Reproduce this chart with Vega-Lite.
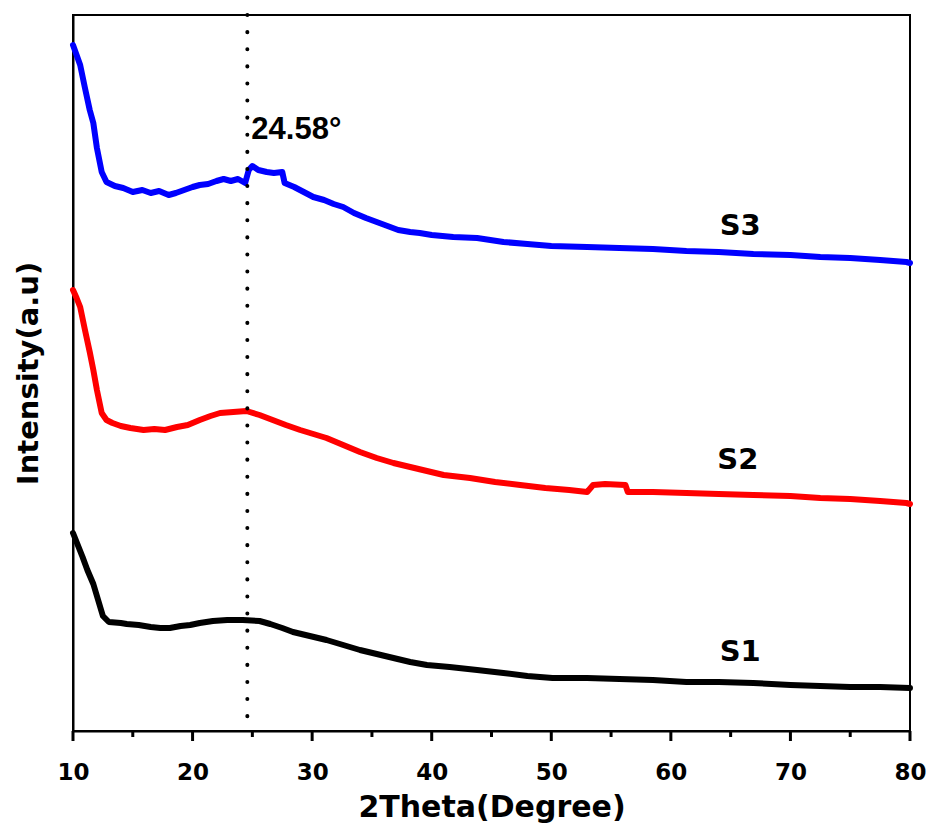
{
  "$schema": "https://vega.github.io/schema/vega-lite/v6.json",
  "width": 837,
  "height": 716,
  "autosize": {"type": "none"},
  "padding": {"left": 73, "top": 15, "right": 17, "bottom": 92},
  "background": "white",
  "config": {
    "view": {"stroke": "black", "strokeWidth": 2},
    "font": "DejaVu Sans"
  },
  "datasets": {
    "xrd": [
      {"theta": 10.0, "intensity": 686, "sample": "S3"},
      {"theta": 10.3, "intensity": 676, "sample": "S3"},
      {"theta": 10.6, "intensity": 666, "sample": "S3"},
      {"theta": 11.0, "intensity": 643, "sample": "S3"},
      {"theta": 11.4, "intensity": 621, "sample": "S3"},
      {"theta": 11.7, "intensity": 608, "sample": "S3"},
      {"theta": 12.0, "intensity": 583, "sample": "S3"},
      {"theta": 12.4, "intensity": 559, "sample": "S3"},
      {"theta": 12.8, "intensity": 549, "sample": "S3"},
      {"theta": 13.5, "intensity": 545, "sample": "S3"},
      {"theta": 14.2, "intensity": 543, "sample": "S3"},
      {"theta": 15.0, "intensity": 539, "sample": "S3"},
      {"theta": 15.8, "intensity": 541, "sample": "S3"},
      {"theta": 16.5, "intensity": 538, "sample": "S3"},
      {"theta": 17.2, "intensity": 540, "sample": "S3"},
      {"theta": 18.0, "intensity": 536, "sample": "S3"},
      {"theta": 18.6, "intensity": 538, "sample": "S3"},
      {"theta": 19.3, "intensity": 541, "sample": "S3"},
      {"theta": 20.0, "intensity": 544, "sample": "S3"},
      {"theta": 20.6, "intensity": 546, "sample": "S3"},
      {"theta": 21.3, "intensity": 547, "sample": "S3"},
      {"theta": 22.0, "intensity": 550, "sample": "S3"},
      {"theta": 22.6, "intensity": 552, "sample": "S3"},
      {"theta": 23.2, "intensity": 550, "sample": "S3"},
      {"theta": 23.8, "intensity": 552, "sample": "S3"},
      {"theta": 24.4, "intensity": 548, "sample": "S3"},
      {"theta": 24.7, "intensity": 561, "sample": "S3"},
      {"theta": 25.0, "intensity": 565, "sample": "S3"},
      {"theta": 25.5, "intensity": 561, "sample": "S3"},
      {"theta": 26.2, "intensity": 559, "sample": "S3"},
      {"theta": 26.8, "intensity": 558, "sample": "S3"},
      {"theta": 27.5, "intensity": 559, "sample": "S3"},
      {"theta": 27.7, "intensity": 548, "sample": "S3"},
      {"theta": 28.5, "intensity": 544, "sample": "S3"},
      {"theta": 29.3, "intensity": 539, "sample": "S3"},
      {"theta": 30.1, "intensity": 534, "sample": "S3"},
      {"theta": 31.0, "intensity": 531, "sample": "S3"},
      {"theta": 31.8, "intensity": 527, "sample": "S3"},
      {"theta": 32.6, "intensity": 524, "sample": "S3"},
      {"theta": 33.5, "intensity": 518, "sample": "S3"},
      {"theta": 34.5, "intensity": 513, "sample": "S3"},
      {"theta": 35.4, "intensity": 509, "sample": "S3"},
      {"theta": 36.3, "intensity": 505, "sample": "S3"},
      {"theta": 37.2, "intensity": 501, "sample": "S3"},
      {"theta": 38.2, "intensity": 499, "sample": "S3"},
      {"theta": 39.0, "intensity": 498, "sample": "S3"},
      {"theta": 40.0, "intensity": 496, "sample": "S3"},
      {"theta": 41.8, "intensity": 494, "sample": "S3"},
      {"theta": 43.8, "intensity": 493, "sample": "S3"},
      {"theta": 46.0, "intensity": 489, "sample": "S3"},
      {"theta": 48.0, "intensity": 487, "sample": "S3"},
      {"theta": 50.0, "intensity": 485, "sample": "S3"},
      {"theta": 53.0, "intensity": 484, "sample": "S3"},
      {"theta": 55.7, "intensity": 483, "sample": "S3"},
      {"theta": 58.5, "intensity": 482, "sample": "S3"},
      {"theta": 61.3, "intensity": 480, "sample": "S3"},
      {"theta": 64.0, "intensity": 479, "sample": "S3"},
      {"theta": 66.9, "intensity": 477, "sample": "S3"},
      {"theta": 70.0, "intensity": 476, "sample": "S3"},
      {"theta": 72.5, "intensity": 474, "sample": "S3"},
      {"theta": 75.0, "intensity": 473, "sample": "S3"},
      {"theta": 77.5, "intensity": 471, "sample": "S3"},
      {"theta": 79.7, "intensity": 469, "sample": "S3"},
      {"theta": 80.0, "intensity": 468, "sample": "S3"},

      {"theta": 10.0, "intensity": 441, "sample": "S2"},
      {"theta": 10.3, "intensity": 433, "sample": "S2"},
      {"theta": 10.6, "intensity": 424, "sample": "S2"},
      {"theta": 11.0, "intensity": 401, "sample": "S2"},
      {"theta": 11.4, "intensity": 379, "sample": "S2"},
      {"theta": 11.7, "intensity": 361, "sample": "S2"},
      {"theta": 12.0, "intensity": 341, "sample": "S2"},
      {"theta": 12.4, "intensity": 318, "sample": "S2"},
      {"theta": 12.8, "intensity": 311, "sample": "S2"},
      {"theta": 13.3, "intensity": 308, "sample": "S2"},
      {"theta": 14.0, "intensity": 305, "sample": "S2"},
      {"theta": 14.8, "intensity": 303, "sample": "S2"},
      {"theta": 15.9, "intensity": 301, "sample": "S2"},
      {"theta": 16.8, "intensity": 302, "sample": "S2"},
      {"theta": 17.7, "intensity": 301, "sample": "S2"},
      {"theta": 18.7, "intensity": 304, "sample": "S2"},
      {"theta": 19.6, "intensity": 306, "sample": "S2"},
      {"theta": 20.6, "intensity": 311, "sample": "S2"},
      {"theta": 21.5, "intensity": 315, "sample": "S2"},
      {"theta": 22.3, "intensity": 318, "sample": "S2"},
      {"theta": 23.4, "intensity": 319, "sample": "S2"},
      {"theta": 24.5, "intensity": 320, "sample": "S2"},
      {"theta": 25.6, "intensity": 316, "sample": "S2"},
      {"theta": 26.7, "intensity": 311, "sample": "S2"},
      {"theta": 27.8, "intensity": 306, "sample": "S2"},
      {"theta": 29.0, "intensity": 301, "sample": "S2"},
      {"theta": 30.1, "intensity": 297, "sample": "S2"},
      {"theta": 31.2, "intensity": 293, "sample": "S2"},
      {"theta": 32.6, "intensity": 286, "sample": "S2"},
      {"theta": 34.0, "intensity": 279, "sample": "S2"},
      {"theta": 35.4, "intensity": 273, "sample": "S2"},
      {"theta": 36.8, "intensity": 268, "sample": "S2"},
      {"theta": 38.2, "intensity": 264, "sample": "S2"},
      {"theta": 39.6, "intensity": 260, "sample": "S2"},
      {"theta": 41.0, "intensity": 256, "sample": "S2"},
      {"theta": 43.2, "intensity": 253, "sample": "S2"},
      {"theta": 45.3, "intensity": 249, "sample": "S2"},
      {"theta": 47.4, "intensity": 246, "sample": "S2"},
      {"theta": 49.5, "intensity": 243, "sample": "S2"},
      {"theta": 51.5, "intensity": 241, "sample": "S2"},
      {"theta": 53.0, "intensity": 239, "sample": "S2"},
      {"theta": 53.5, "intensity": 246, "sample": "S2"},
      {"theta": 54.5, "intensity": 247, "sample": "S2"},
      {"theta": 56.2, "intensity": 246, "sample": "S2"},
      {"theta": 56.4, "intensity": 239, "sample": "S2"},
      {"theta": 58.5, "intensity": 239, "sample": "S2"},
      {"theta": 61.3, "intensity": 238, "sample": "S2"},
      {"theta": 64.0, "intensity": 237, "sample": "S2"},
      {"theta": 66.9, "intensity": 236, "sample": "S2"},
      {"theta": 70.0, "intensity": 235, "sample": "S2"},
      {"theta": 72.5, "intensity": 233, "sample": "S2"},
      {"theta": 75.0, "intensity": 232, "sample": "S2"},
      {"theta": 77.5, "intensity": 230, "sample": "S2"},
      {"theta": 79.7, "intensity": 228, "sample": "S2"},
      {"theta": 80.0, "intensity": 227, "sample": "S2"},

      {"theta": 10.0, "intensity": 198, "sample": "S1"},
      {"theta": 10.4, "intensity": 186, "sample": "S1"},
      {"theta": 10.8, "intensity": 174, "sample": "S1"},
      {"theta": 11.2, "intensity": 161, "sample": "S1"},
      {"theta": 11.7, "intensity": 147, "sample": "S1"},
      {"theta": 12.1, "intensity": 131, "sample": "S1"},
      {"theta": 12.5, "intensity": 115, "sample": "S1"},
      {"theta": 13.0, "intensity": 109, "sample": "S1"},
      {"theta": 14.0, "intensity": 108, "sample": "S1"},
      {"theta": 14.5, "intensity": 107, "sample": "S1"},
      {"theta": 15.5, "intensity": 106, "sample": "S1"},
      {"theta": 16.5, "intensity": 104, "sample": "S1"},
      {"theta": 17.3, "intensity": 103, "sample": "S1"},
      {"theta": 18.1, "intensity": 103, "sample": "S1"},
      {"theta": 19.0, "intensity": 105, "sample": "S1"},
      {"theta": 19.8, "intensity": 106, "sample": "S1"},
      {"theta": 20.6, "intensity": 108, "sample": "S1"},
      {"theta": 21.7, "intensity": 110, "sample": "S1"},
      {"theta": 22.9, "intensity": 111, "sample": "S1"},
      {"theta": 24.2, "intensity": 111, "sample": "S1"},
      {"theta": 25.6, "intensity": 110, "sample": "S1"},
      {"theta": 26.5, "intensity": 107, "sample": "S1"},
      {"theta": 27.5, "intensity": 103, "sample": "S1"},
      {"theta": 28.4, "intensity": 99, "sample": "S1"},
      {"theta": 29.8, "intensity": 95, "sample": "S1"},
      {"theta": 31.2, "intensity": 91, "sample": "S1"},
      {"theta": 32.6, "intensity": 86, "sample": "S1"},
      {"theta": 34.0, "intensity": 81, "sample": "S1"},
      {"theta": 35.4, "intensity": 77, "sample": "S1"},
      {"theta": 36.8, "intensity": 73, "sample": "S1"},
      {"theta": 38.2, "intensity": 69, "sample": "S1"},
      {"theta": 39.6, "intensity": 66, "sample": "S1"},
      {"theta": 41.5, "intensity": 64, "sample": "S1"},
      {"theta": 43.8, "intensity": 61, "sample": "S1"},
      {"theta": 46.0, "intensity": 58, "sample": "S1"},
      {"theta": 48.0, "intensity": 55, "sample": "S1"},
      {"theta": 50.1, "intensity": 53, "sample": "S1"},
      {"theta": 53.0, "intensity": 53, "sample": "S1"},
      {"theta": 55.7, "intensity": 52, "sample": "S1"},
      {"theta": 58.5, "intensity": 51, "sample": "S1"},
      {"theta": 61.3, "intensity": 49, "sample": "S1"},
      {"theta": 64.0, "intensity": 49, "sample": "S1"},
      {"theta": 66.9, "intensity": 48, "sample": "S1"},
      {"theta": 70.0, "intensity": 46, "sample": "S1"},
      {"theta": 72.5, "intensity": 45, "sample": "S1"},
      {"theta": 75.0, "intensity": 44, "sample": "S1"},
      {"theta": 77.5, "intensity": 44, "sample": "S1"},
      {"theta": 80.0, "intensity": 43, "sample": "S1"}
    ],
    "labels": [
      {"theta": 65.8, "intensity": 505, "text": "S3"},
      {"theta": 65.6, "intensity": 271, "text": "S2"},
      {"theta": 65.8, "intensity": 79, "text": "S1"}
    ],
    "peak": [
      {"theta": 24.58, "text": "24.58°", "intensity": 601}
    ],
    "major": [
      {"theta": 10}, {"theta": 20}, {"theta": 30}, {"theta": 40},
      {"theta": 50}, {"theta": 60}, {"theta": 70}, {"theta": 80}
    ],
    "minor": [
      {"theta": 15}, {"theta": 25}, {"theta": 35}, {"theta": 45},
      {"theta": 55}, {"theta": 65}, {"theta": 75}
    ]
  },
  "layer": [
    {
      "data": {"name": "xrd"},
      "mark": {"type": "line", "strokeWidth": 6, "strokeJoin": "round", "strokeCap": "round"},
      "encoding": {
        "x": {
          "field": "theta", "type": "quantitative",
          "scale": {"domain": [10, 80], "nice": false, "zero": false},
          "axis": {
            "orient": "bottom",
            "title": "2Theta(Degree)",
            "values": [10, 20, 30, 40, 50, 60, 70, 80],
            "ticks": false,
            "domainColor": "black", "domainWidth": 2,
            "labelFont": "DejaVu Sans", "labelFontWeight": "bold", "labelFontSize": 23, "labelColor": "black",
            "labelPadding": 30, "labelFlush": false, "labelOverlap": false,
            "titleFont": "DejaVu Sans", "titleFontWeight": "bold", "titleFontSize": 30, "titleColor": "black",
            "titlePadding": 8, "grid": false
          }
        },
        "y": {
          "field": "intensity", "type": "quantitative",
          "scale": {"domain": [0, 716], "nice": false, "zero": false},
          "axis": {
            "title": "Intensity(a.u)", "ticks": false, "labels": false, "grid": false,
            "domainColor": "black", "domainWidth": 2,
            "titleFont": "DejaVu Sans", "titleFontWeight": "bold", "titleFontSize": 29, "titleColor": "black",
            "titlePadding": 30
          }
        },
        "color": {
          "field": "sample", "type": "nominal",
          "scale": {"domain": ["S1", "S2", "S3"], "range": ["#000000", "#ff0000", "#0000ff"]},
          "legend": null
        }
      }
    },
    {
      "data": {"name": "major"},
      "mark": {"type": "rule", "strokeWidth": 3, "color": "black", "clip": false},
      "encoding": {
        "x": {"field": "theta", "type": "quantitative"},
        "y": {"datum": 0, "type": "quantitative"},
        "y2": {"datum": -10}
      }
    },
    {
      "data": {"name": "minor"},
      "mark": {"type": "rule", "strokeWidth": 3, "color": "black", "clip": false},
      "encoding": {
        "x": {"field": "theta", "type": "quantitative"},
        "y": {"datum": 0, "type": "quantitative"},
        "y2": {"datum": -6}
      }
    },
    {
      "data": {"name": "peak"},
      "mark": {"type": "rule", "strokeDash": [0.1, 17], "strokeWidth": 4, "strokeCap": "round", "color": "black"},
      "encoding": {
        "x": {"field": "theta", "type": "quantitative"}
      }
    },
    {
      "data": {"name": "labels"},
      "mark": {"type": "text", "font": "DejaVu Sans", "fontWeight": "bold", "fontSize": 29, "color": "black", "align": "center", "baseline": "middle"},
      "encoding": {
        "x": {"field": "theta", "type": "quantitative"},
        "y": {"field": "intensity", "type": "quantitative"},
        "text": {"field": "text"}
      }
    },
    {
      "data": {"name": "peak"},
      "mark": {"type": "text", "font": "Liberation Sans", "fontWeight": "bold", "fontSize": 31, "color": "black", "align": "left", "baseline": "middle", "dx": 4},
      "encoding": {
        "x": {"field": "theta", "type": "quantitative"},
        "y": {"field": "intensity", "type": "quantitative"},
        "text": {"field": "text"}
      }
    }
  ]
}
